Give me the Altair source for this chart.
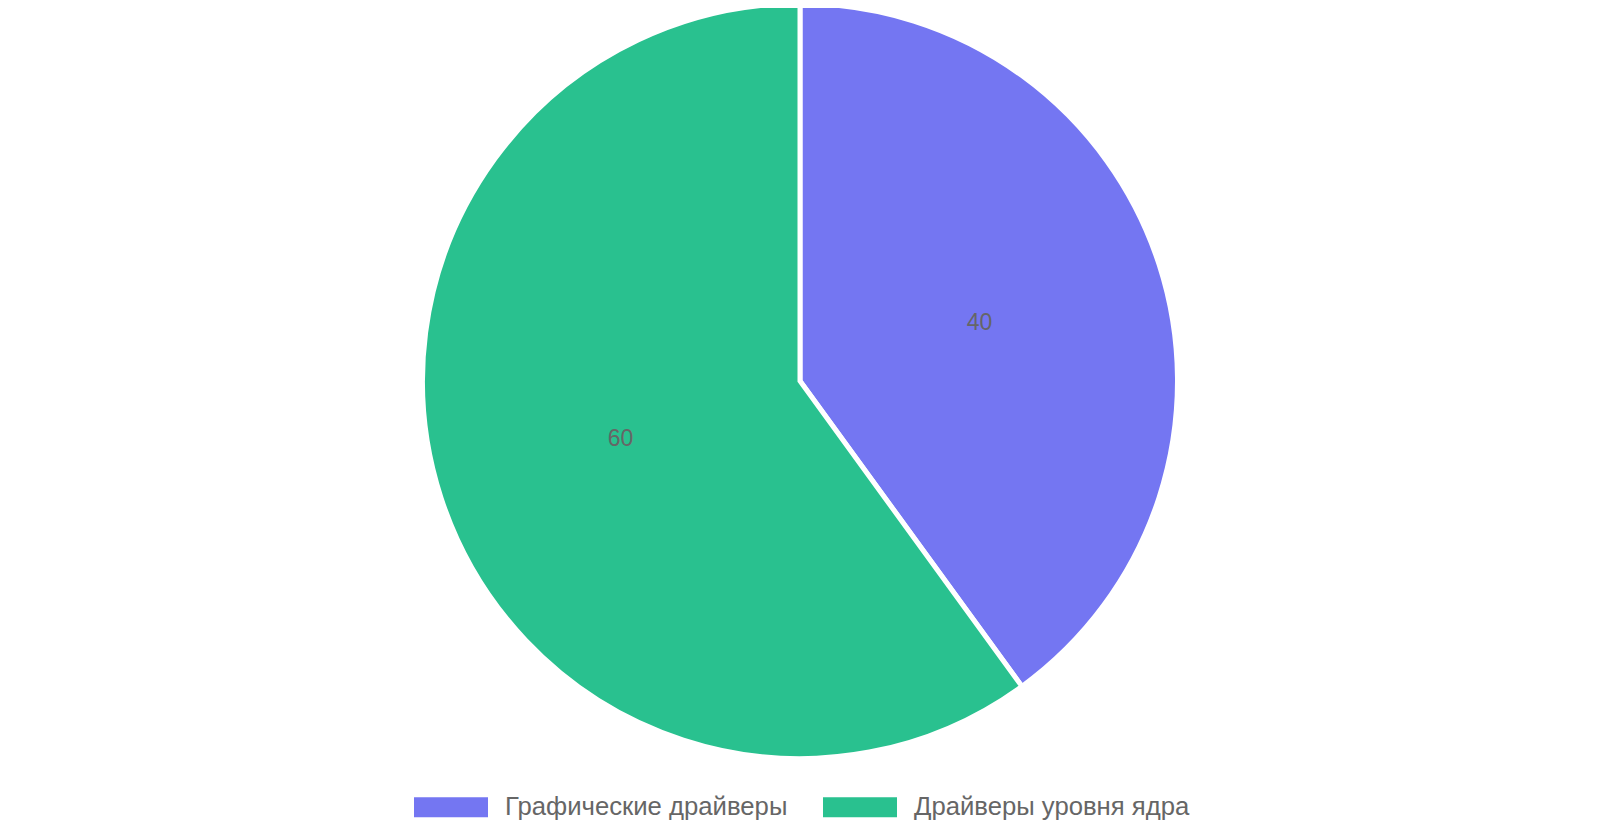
import altair as alt
import pandas as pd

categories = ["Графические драйверы", "Драйверы уровня ядра"]
values = [40, 60]
colors = ["#7476F2", "#29C18F"]

df = pd.DataFrame({"cat": categories, "val": values, "idx": [0, 1]})

cx, cy, R = 792, 373, 377.5

base = alt.Chart(df).encode(
    theta=alt.Theta("val:Q", stack=True),
    order=alt.Order("idx:Q"),
)

pie = base.mark_arc(stroke="white", strokeWidth=5).encode(
    x=alt.value(cx),
    y=alt.value(cy),
    radius=alt.value(R),
    color=alt.Color(
        "cat:N",
        scale=alt.Scale(domain=categories, range=colors),
        sort=categories,
        legend=alt.Legend(
            title=None,
            orient="none",
            legendX=406,
            legendY=762,
            direction="horizontal",
            columns=2,
            symbolType="M-1,-0.27L1,-0.27L1,0.27L-1,0.27Z",
            symbolSize=5476,
            symbolStrokeWidth=0,
            symbolOpacity=1,
            labelFont="Liberation Sans",
            labelFontSize=25.7,
            labelColor="#666666",
            labelOffset=17,
            columnPadding=35,
            padding=0,
            labelLimit=400,
        ),
    ),
)

labels = base.mark_text(
    font="Liberation Sans", fontSize=23, color="#666666", align="center", baseline="middle"
).encode(
    x=alt.value(cx),
    y=alt.value(cy),
    radius=alt.value(R / 2),
    text=alt.Text("val:Q"),
)

chart = (
    alt.layer(pie, labels)
    .properties(width=1584, height=824, padding=0, autosize=alt.AutoSizeParams(type="none"))
    .configure_view(stroke=None)
)

chart.save("out.html", embed_options={"renderer": "svg", "actions": False})
